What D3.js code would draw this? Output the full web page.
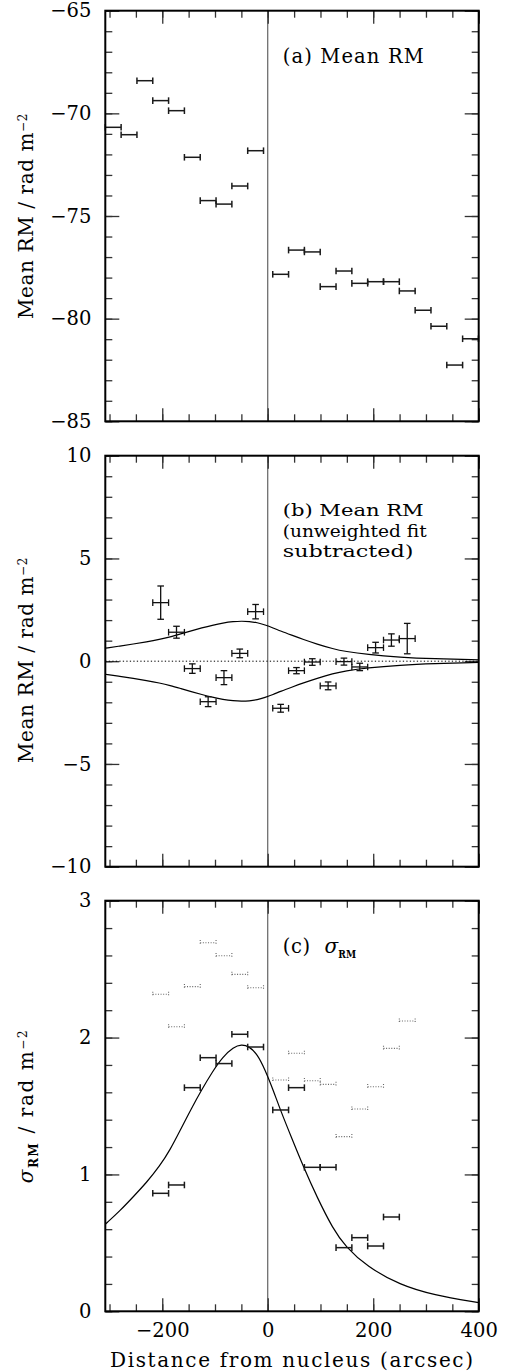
<!DOCTYPE html>
<html><head><meta charset="utf-8">
<script src="https://cdn.jsdelivr.net/npm/d3@7"></script>
<style>
body{margin:0;background:#fff}
svg{display:block}
text{font-family:"DejaVu Serif",serif;fill:#000}
</style>
</head><body>
<svg id="chart" width="508" height="1372"></svg>
<script>
// ---------------- DATA ----------------
const binHalfWidth = 15;            // arcsec, half-width of each bin
const xTickValues = [-200, 0, 200, 400];
const xTickLabels = ["\u2212200", "0", "200", "400"];

// (a) Mean RM
const meanX  = [-293,-263,-233,-203,-173,-143,-113,-83,-53,-23,24.5,54.5,84.5,114.5,144.5,174.5,204.5,234.5,264.5,294.5,324.5,354.5,384.5];
const meanRM = [-70.68,-71.04,-68.41,-69.38,-69.87,-72.14,-74.25,-74.42,-73.54,-71.82,-77.84,-76.66,-76.75,-78.44,-77.68,-78.28,-78.2,-78.2,-78.65,-79.59,-80.37,-82.26,-80.98];
const yTicksA = [-85,-80,-75,-70,-65];
const yLabelsA = ["\u221285","\u221280","\u221275","\u221270","\u221265"];

// (b) residual Mean RM
const resX   = [-203,-173,-143,-113,-83,-53,-23,24.5,54.5,84.5,114.5,144.5,174.5,204.5,234.5,264.5];
const resRM  = [2.85,1.41,-0.36,-1.97,-0.80,0.38,2.41,-2.29,-0.46,-0.04,-1.20,-0.02,-0.28,0.66,1.03,1.10];
const resErr = [0.81,0.29,0.23,0.24,0.34,0.21,0.35,0.19,0.15,0.16,0.19,0.17,0.18,0.26,0.30,0.74];
const yTicksB = [-10,-5,0,5,10];
const yLabelsB = ["\u221210","\u22125","0","5","10"];

// (c) sigma RM
const sigX  = [-203,-173,-143,-113,-83,-53,-23,24.5,54.5,84.5,114.5,144.5,174.5,204.5,234.5];
const sigRM = [0.862,0.923,1.634,1.853,1.81,2.024,1.931,1.471,1.634,1.052,1.052,0.465,0.538,0.477,0.689];
const sigAltX  = [-203,-173,-143,-113,-83,-53,-23,24.5,54.5,84.5,114.5,144.5,174.5,204.5,234.5,264.5];
const sigAltRM = [2.316,2.079,2.372,2.693,2.598,2.462,2.364,1.69,1.885,1.685,1.658,1.276,1.478,1.641,1.921,2.121];
const yTicksC = [0,1,2,3];
const yLabelsC = ["0","1","2","3"];

// model curve
const modelX     = [-308,-280,-255,-230,-205,-185,-165,-145,-125,-105,-85,-65,-50,-35,-20,-5,10,25,45,67.5,93,124,147,188,251,314,400];
const modelSigma = [0.636,0.735,0.837,0.94,1.06,1.18,1.33,1.48,1.62,1.75,1.86,1.93,1.95,1.935,1.88,1.765,1.62,1.46,1.27,1.057,0.837,0.6,0.475,0.326,0.192,0.119,0.063];

// ---------------- LAYOUT ----------------
const svg = d3.select("#chart");
const L = 105.3, R = 478.7;
const x = d3.scaleLinear().domain([-308, 400]).range([L, R]);
const xMinor = d3.range(-300, 401, 50);
const FONT = "DejaVu Serif";

const panels = {
  a: {top: 10.7,  bottom: 421.3,  dom: [-85, -65], major: yTicksA, labels: yLabelsA, minorStep: 1},
  b: {top: 455.7, bottom: 866.7,  dom: [-10, 10],  major: yTicksB, labels: yLabelsB, minorStep: 1},
  c: {top: 900.7, bottom: 1311.3, dom: [0, 3],     major: yTicksC, labels: yLabelsC, minorStep: 0.2}
};

function styleAxis(g) {
  g.select(".domain").remove();
  g.selectAll(".tick line").attr("stroke", "#333").attr("stroke-width", 1.3);
  g.attr("font-family", FONT).attr("font-size", 19.5);
  g.selectAll(".tick text").attr("fill", "#000");
}

function drawPanel(p, xLabels) {
  const y = d3.scaleLinear().domain(p.dom).range([p.bottom, p.top]);
  const g = svg.append("g");
  const yMinor = d3.range(p.dom[0], p.dom[1] + p.minorStep / 2, p.minorStep);
  g.append("line").attr("x1", x(0)).attr("x2", x(0)).attr("y1", p.top).attr("y2", p.bottom)
    .attr("stroke", "#555").attr("stroke-width", 1.1);
  g.append("g").attr("transform", `translate(${L},0)`)
    .call(d3.axisLeft(y).tickValues(p.major).tickSize(-14).tickPadding(14).tickFormat((d, i) => p.labels[i]))
    .call(styleAxis);
  g.append("g").attr("transform", `translate(${L},0)`)
    .call(d3.axisLeft(y).tickValues(yMinor).tickSize(-7).tickFormat("")).call(styleAxis);
  g.append("g").attr("transform", `translate(${R},0)`)
    .call(d3.axisRight(y).tickValues(p.major).tickSize(-14).tickFormat("")).call(styleAxis);
  g.append("g").attr("transform", `translate(${R},0)`)
    .call(d3.axisRight(y).tickValues(yMinor).tickSize(-7).tickFormat("")).call(styleAxis);
  g.append("g").attr("transform", `translate(0,${p.top})`)
    .call(d3.axisTop(x).tickValues(xTickValues).tickSize(-13).tickFormat("")).call(styleAxis);
  g.append("g").attr("transform", `translate(0,${p.top})`)
    .call(d3.axisTop(x).tickValues(xMinor).tickSize(-7).tickFormat("")).call(styleAxis);
  g.append("g").attr("transform", `translate(0,${p.bottom})`)
    .call(d3.axisBottom(x).tickValues(xTickValues).tickSize(-13).tickPadding(12)
      .tickFormat((d, i) => xLabels ? xTickLabels[i] : "")).call(styleAxis);
  g.append("g").attr("transform", `translate(0,${p.bottom})`)
    .call(d3.axisBottom(x).tickValues(xMinor).tickSize(-7).tickFormat("")).call(styleAxis);
  return {y, g};
}

function frame(p) {
  svg.append("rect").attr("x", L).attr("y", p.top).attr("width", R - L).attr("height", p.bottom - p.top)
    .attr("fill", "none").attr("stroke", "#000").attr("stroke-width", 2);
}

function hBar(g, xs, ys, y, opts) {
  const cap = opts.cap || 3.3;
  const sel = g.append("g").attr("stroke", opts.color).attr("stroke-width", opts.width)
    .attr("stroke-dasharray", opts.dash || null).attr("fill", "none");
  xs.forEach((cx, i) => {
    const yy = y(ys[i]), x0 = x(cx - binHalfWidth), x1 = x(cx + binHalfWidth);
    sel.append("line").attr("x1", x0).attr("x2", x1).attr("y1", yy).attr("y2", yy);
    sel.append("line").attr("x1", x0).attr("x2", x0).attr("y1", yy - cap).attr("y2", yy + cap);
    sel.append("line").attr("x1", x1).attr("x2", x1).attr("y1", yy - cap).attr("y2", yy + cap);
  });
}

const modelPts = modelX.map((d, i) => [d, modelSigma[i]]);

// ---------------- PANEL A ----------------
const A = drawPanel(panels.a, false);
hBar(A.g, meanX, meanRM, A.y, {color: "#1a1a1a", width: 1.5});
frame(panels.a);

// ---------------- PANEL B ----------------
const B = drawPanel(panels.b, false);
B.g.append("line").attr("x1", L).attr("x2", R).attr("y1", B.y(0)).attr("y2", B.y(0))
  .attr("stroke", "#000").attr("stroke-width", 1).attr("stroke-dasharray", "1.3,2.2");
const lineB = s => d3.line().x(d => x(d[0])).y(d => B.y(s * d[1])).curve(d3.curveBasis);
B.g.append("path").attr("d", lineB(1)(modelPts)).attr("fill", "none").attr("stroke", "#000").attr("stroke-width", 1.2);
B.g.append("path").attr("d", lineB(-1)(modelPts)).attr("fill", "none").attr("stroke", "#000").attr("stroke-width", 1.2);
hBar(B.g, resX, resRM, B.y, {color: "#111", width: 1.3});
{
  const vg = B.g.append("g").attr("stroke", "#111").attr("stroke-width", 1.3);
  resX.forEach((cx, i) => {
    const xx = x(cx), y0 = B.y(resRM[i] - resErr[i]), y1 = B.y(resRM[i] + resErr[i]);
    vg.append("line").attr("x1", xx).attr("x2", xx).attr("y1", y0).attr("y2", y1);
    vg.append("line").attr("x1", xx - 3.3).attr("x2", xx + 3.3).attr("y1", y0).attr("y2", y0);
    vg.append("line").attr("x1", xx - 3.3).attr("x2", xx + 3.3).attr("y1", y1).attr("y2", y1);
  });
}
frame(panels.b);

// ---------------- PANEL C ----------------
const C = drawPanel(panels.c, true);
C.g.append("path").attr("d", d3.line().x(d => x(d[0])).y(d => C.y(d[1])).curve(d3.curveBasis)(modelPts))
  .attr("fill", "none").attr("stroke", "#000").attr("stroke-width", 1.2);
hBar(C.g, sigAltX, sigAltRM, C.y, {color: "#666", width: 1.1, dash: "1,1.6", cap: 2.6});
hBar(C.g, sigX, sigRM, C.y, {color: "#1a1a1a", width: 1.5});
frame(panels.c);

// ---------------- TEXT ----------------
function ylabel(cy, sigma, spacing) {
  const t = svg.append("text").attr("transform", `translate(33,${cy}) rotate(-90)`)
    .attr("text-anchor", "middle").attr("font-size", 20).style("letter-spacing", spacing + "px");
  if (sigma) {
    t.append("tspan").attr("font-style", "italic").text("\u03c3");
    t.append("tspan").attr("font-size", 12).attr("font-weight", "bold").attr("dy", 5).text("RM");
    t.append("tspan").attr("dy", -5).text(" / rad m");
  } else {
    t.append("tspan").text("Mean RM / rad m");
  }
  t.append("tspan").attr("font-size", 12).attr("dy", -6).text("\u22122");
}
ylabel(216, false, 0.6);
ylabel(660, false, 0.6);
ylabel(1106, true, 1.6);

svg.append("text").attr("x", 110).attr("y", 1366.7).attr("font-size", 20)
  .attr("textLength", 363).attr("lengthAdjust", "spacing").text("Distance from nucleus (arcsec)");

function note(tx, ty, str, len, fs, adj) {
  svg.append("text").attr("x", tx).attr("y", ty).attr("font-size", fs || 19.5)
    .attr("textLength", len).attr("lengthAdjust", adj || "spacing").text(str);
}
note(282.7, 62.7, "(a) Mean RM", 141);
note(282.7, 516, "(b) Mean RM", 141, 17.2, "spacingAndGlyphs");
note(282.7, 536.5, "(unweighted fit", 144, 17.2, "spacingAndGlyphs");
note(282.7, 556.5, "subtracted)", 130.7, 17.2, "spacingAndGlyphs");
note(282.7, 953.3, "(c)", 27.3);
svg.append("text").attr("x", 324.5).attr("y", 953.3).attr("font-size", 20).attr("font-style", "italic").text("\u03c3");
svg.append("text").attr("x", 338.3).attr("y", 958.3).attr("font-size", 10.5).attr("font-weight", "bold")
  .attr("textLength", 17.7).attr("lengthAdjust", "spacingAndGlyphs").text("RM");
</script>
</body></html>
